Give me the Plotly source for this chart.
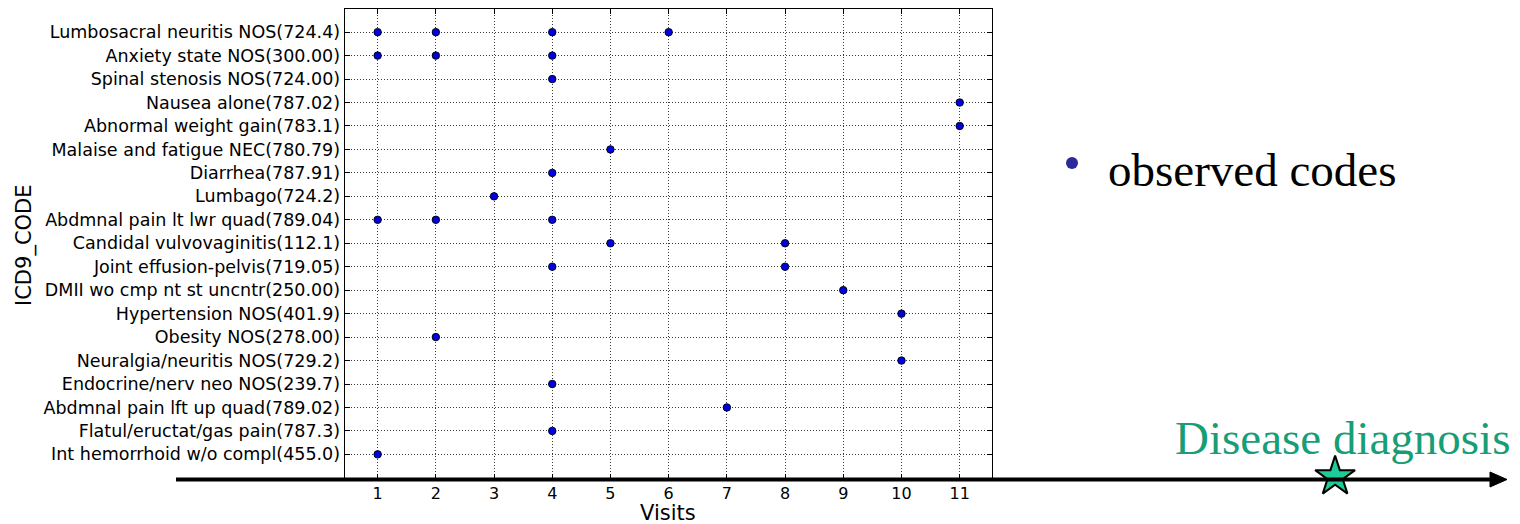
import plotly.graph_objects as go

# page body has an 8px margin; the figure is sized to fit the window beside it
OFF = 8
W, H = 1520 - OFF, 524 - OFF

# ---------------- data ----------------
codes = [
    "Lumbosacral neuritis NOS(724.4)",
    "Anxiety state NOS(300.00)",
    "Spinal stenosis NOS(724.00)",
    "Nausea alone(787.02)",
    "Abnormal weight gain(783.1)",
    "Malaise and fatigue NEC(780.79)",
    "Diarrhea(787.91)",
    "Lumbago(724.2)",
    "Abdmnal pain lt lwr quad(789.04)",
    "Candidal vulvovaginitis(112.1)",
    "Joint effusion-pelvis(719.05)",
    "DMII wo cmp nt st uncntr(250.00)",
    "Hypertension NOS(401.9)",
    "Obesity NOS(278.00)",
    "Neuralgia/neuritis NOS(729.2)",
    "Endocrine/nerv neo NOS(239.7)",
    "Abdmnal pain lft up quad(789.02)",
    "Flatul/eructat/gas pain(787.3)",
    "Int hemorrhoid w/o compl(455.0)",
]
visits_per_code = [
    [1, 2, 4, 6],
    [1, 2, 4],
    [4],
    [11],
    [11],
    [5],
    [4],
    [3],
    [1, 2, 4],
    [5, 8],
    [4, 8],
    [9],
    [10],
    [2],
    [10],
    [4],
    [7],
    [4],
    [1],
]
visit_ticks = list(range(1, 12))
diagnosis_visit = 17.45
diagnosis_level = -0.95

legend_label = "observed codes"
diagnosis_label = "Disease diagnosis"
x_title = "Visits"
y_title = "ICD9_CODE"

n = len(codes)
code_pos = [n - 1 - i for i in range(n)]  # first code at the top

obs_x, obs_y, obs_txt = [], [], []
for code, pos, vs in zip(codes, code_pos, visits_per_code):
    for v in vs:
        obs_x.append(v)
        obs_y.append(pos)
        obs_txt.append(code)

# ---------------- layout helpers (reference-pixel -> paper) ----------------
def px(x):
    return (x - OFF) / W

def py(y):
    return (H - (y - OFF)) / H

X_RANGE = [0.434, 11.55]
Y_RANGE = [-1.05, 19.0]
left, right, top, bottom = 344.7, 991.7, 8.7, 479.0
scale = (right - left) / (X_RANGE[1] - X_RANGE[0])
X2_RANGE = [X_RANGE[0] - (left - OFF) / scale, X_RANGE[1] + (1520 - right) / scale]

fig = go.Figure()
fig.add_trace(go.Scatter(
    x=obs_x, y=obs_y, text=obs_txt, mode="markers", name=legend_label, showlegend=False,
    marker=dict(size=7.5, color="#0000e0", line=dict(color="black", width=0.9)),
    hovertemplate="%{text}<br>visit %{x}<extra></extra>",
))
fig.add_trace(go.Scatter(
    x=[diagnosis_visit], y=[diagnosis_level], xaxis="x2", yaxis="y2",
    mode="markers", name=diagnosis_label, showlegend=False,
    marker=dict(symbol="star", size=30, color="#1fcb98", line=dict(color="black", width=2)),
    cliponaxis=False,
))

grid_kw = dict(showgrid=True, gridcolor="#3a3a3a", gridwidth=1, griddash="1px,2px")
tick_kw = dict(ticks="inside", ticklen=5, tickwidth=1, tickcolor="black", mirror="allticks",
               showline=True, linecolor="black", linewidth=1.2, zeroline=False, automargin=False)
fig.update_layout(
    width=W, height=H, template="none",
    margin=dict(l=0, r=0, t=0, b=0, pad=0),
    paper_bgcolor="white", plot_bgcolor="rgba(0,0,0,0)",
    xaxis=dict(
        domain=[px(left), px(right)], range=X_RANGE, tickmode="array", tickvals=visit_ticks,
        tickfont=dict(family="DejaVu Sans", size=16, color="black"),
        anchor="y", **grid_kw, **tick_kw,
    ),
    yaxis=dict(
        domain=[py(bottom), py(top)], range=Y_RANGE, tickmode="array",
        tickvals=code_pos, ticktext=codes,
        tickfont=dict(family="DejaVu Sans", size=17.5, color="black"),
        anchor="x", **grid_kw, **tick_kw,
    ),
    xaxis2=dict(domain=[0, 1], range=X2_RANGE, visible=False, anchor="y2", fixedrange=True),
    yaxis2=dict(domain=[py(bottom), py(top)], range=Y_RANGE, visible=False, anchor="x2", fixedrange=True),
)

# axis titles
title_font = dict(family="DejaVu Sans", size=21, color="black")
fig.add_annotation(text=x_title, xref="paper", yref="paper", x=px(668), y=py(513),
                   xanchor="center", yanchor="middle", showarrow=False, font=title_font)
fig.add_annotation(text=y_title, xref="paper", yref="paper", x=px(24), y=py(245),
                   xanchor="center", yanchor="middle", textangle=-90, showarrow=False, font=title_font)

# time arrow
fig.add_shape(type="line", xref="paper", yref="paper",
              x0=px(176), x1=px(1492), y0=py(479.5), y1=py(479.5),
              line=dict(color="black", width=4), layer="above")
fig.add_shape(type="path", xref="paper", yref="paper",
              path=f"M {px(1490)},{py(472)} L {px(1507)},{py(479.5)} L {px(1490)},{py(487)} Z",
              fillcolor="black", line=dict(color="black", width=1), layer="above")

# legend-like marker and labels
fig.add_shape(type="circle", xref="paper", yref="paper",
              x0=px(1066), x1=px(1078), y0=py(169), y1=py(157),
              fillcolor="#2a2a9c", line=dict(width=0))
serif = "Liberation Serif, Times New Roman, serif"
fig.add_annotation(text=legend_label, xref="paper", yref="paper",
                   x=px(1106), y=py(170), xanchor="left", yanchor="middle", showarrow=False,
                   font=dict(family=serif, size=47, color="black"))
fig.add_annotation(text=diagnosis_label, xref="paper", yref="paper",
                   x=px(1342), y=py(438), xanchor="center", yanchor="middle", showarrow=False,
                   font=dict(family=serif, size=47, color="#179e78"))

fig.write_html("out.html")
